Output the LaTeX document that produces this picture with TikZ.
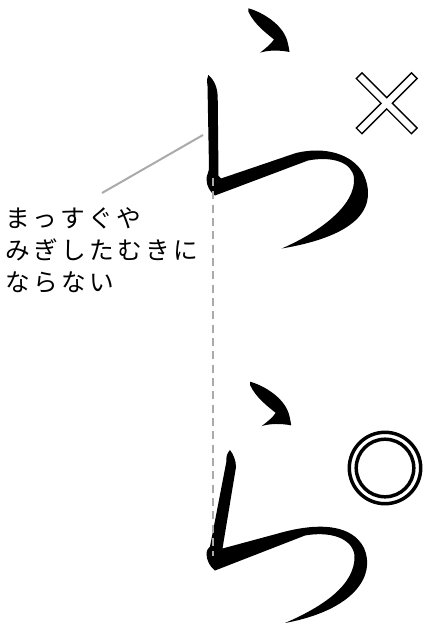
\documentclass[tikz,border=0pt]{standalone}
\usepackage{fontspec}
\newfontfamily\jpfont[LetterSpace=14]{Noto Sans CJK JP}
\usepackage{tikz}
\usetikzlibrary{arrows}

\definecolor{guidegray}{RGB}{170,170,170}
\tikzset{
  brush/.style={fill=black, draw=none},
  guide/.style={draw=guidegray, line width=1.5pt},
  guidedash/.style={guide, dash pattern=on 6pt off 4pt},
  hollow/.style={draw=black, fill=white, line width=1pt},
  ring/.style={draw=black, line width=2.6pt},
  notetext/.style={anchor=north west, inner sep=0pt, align=left, font=\jpfont\fontsize{18.5}{24.2}\selectfont}
}

\begin{document}
\begin{tikzpicture}[x=0.75pt,y=0.75pt,yscale=-1,xscale=1]
\useasboundingbox (0,0) rectangle (425,624);

%Shape: Brush dot top [id:top_dot]
\fill [brush] (248.3,8.3) .. controls (262,12) and (282,24) .. (287,40) .. controls (288.5,45) and (289,49) .. (289.5,52) .. controls (280,50) and (268,50) .. (260,52.7) .. controls (266,48) and (271,44) .. (274,39.5) .. controls (266,33) and (254,24) .. (248.3,11.5) -- cycle ;
%Shape: Brush stroke top [id:top_stroke]
\fill [brush] (208.3,75) .. controls (212,78) and (217,84) .. (217.7,96) -- (218.5,176) -- (221,178.5) -- (296,153) .. controls (325,146) and (352,154) .. (363,173) .. controls (378,205) and (362,235) .. (281.7,248.5) .. controls (320,232) and (356,205) .. (354,178) .. controls (352,162) and (332,156) .. (308,160.5) -- (215,195.5) .. controls (210,192) and (206.5,186) .. (206.5,179) .. controls (206.5,175) and (209,172) .. (209,168) -- (207.5,86) .. controls (207,81) and (206.5,78) .. (208.3,75) -- cycle ;

%Shape: Brush dot bottom [id:bot_dot]
\fill [brush, shift={(1.7,373.4)}] (248.3,8.3) .. controls (262,12) and (282,24) .. (287,40) .. controls (288.5,45) and (289,49) .. (289.5,52) .. controls (280,50) and (268,50) .. (260,52.7) .. controls (266,48) and (271,44) .. (274,39.5) .. controls (266,33) and (254,24) .. (248.3,11.5) -- cycle ;
%Shape: Brush stroke bottom [id:bot_stroke]
\fill [brush] (230,450) .. controls (233,454) and (236,460) .. (236,467) -- (222.5,548.5) -- (278,533.5) .. controls (318,522) and (352,524) .. (364,548) .. controls (376,575) and (355,610) .. (285,623) .. controls (322,607) and (356,585) .. (354.5,555) .. controls (352,538) and (330,531) .. (305,535.5) -- (215,570.5) .. controls (210,567) and (206.5,560) .. (206.5,554) .. controls (206.5,550) and (208.5,548) .. (210,546.5) -- (226.5,461) .. controls (226,457) and (227,453) .. (230,450) -- cycle ;

%Shape: Cross [id:wrong]
\begin{scope}[shift={(386.7,103.3)}, rotate=45]
\draw [hollow] (4,4) -- (39,4) -- (39,-4) -- (4,-4) -- (4,-39) -- (-4,-39) -- (-4,-4) -- (-39,-4) -- (-39,4) -- (-4,4) -- (-4,39) -- (4,39) -- cycle ;
\end{scope}
%Shape: Double circle [id:right]
\draw [ring] (385,468) circle (35.7) ;
\draw [ring] (385,468) circle (28.8) ;

% Guide lines
\coordinate (leadfoot) at (102,193) ;
\coordinate (leadtip) at (203,135) ;
\draw [guide] (leadfoot) -- (leadtip) ;
\coordinate (cornertop) at (212.5,178) ;
\coordinate (cornerbot) at (212.5,556) ;
\draw [guidedash] (cornertop) -- (cornerbot) ;

% Text Node
\node [notetext] (note) at (5,207) {まっすぐや\\みぎしたむきに\\ならない};

\end{tikzpicture}
\end{document}
